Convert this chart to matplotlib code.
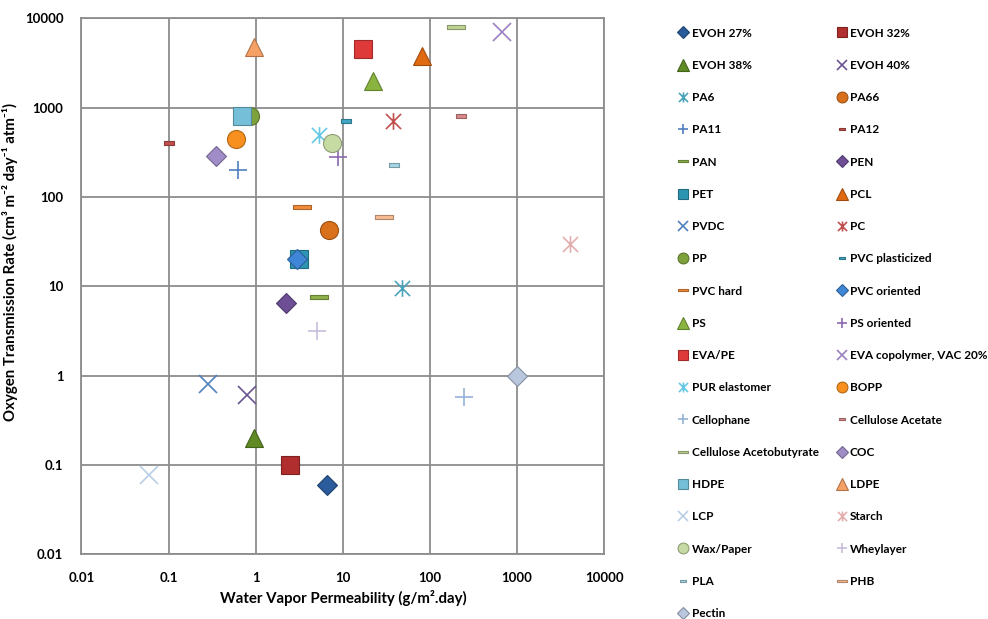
import matplotlib.pyplot as plt
from matplotlib.colors import to_rgb
from matplotlib.path import Path
from matplotlib.ticker import FixedLocator, FixedFormatter, NullLocator

plt.rcParams['font.family'] = ['Lato', 'DejaVu Sans']

# データ
materials = [
    "EVOH 27%", "EVOH 32%", "EVOH 38%", "EVOH 40%", "PA6", "PA66", "PA11", "PA12",
    "PAN", "PEN", "PET", "PCL", "PVDC", "PC", "PP", "PVC plasticized", "PVC hard",
    "PVC oriented", "PS", "PS oriented", "EVA/PE", "EVA copolymer, VAC 20%",
    "PUR elastomer", "BOPP", "Cellophane", "Cellulose Acetate",
    "Cellulose Acetobutyrate", "COC", "HDPE", "LDPE", "LCP", "Starch", "Wax/Paper",
    "Wheylayer", "PLA", "PHB", "Pectin",
]
wvp = [
    6.5, 2.5, 0.95, 0.8, 48, 7.0, 0.63, 0.1,
    5.3, 2.2, 3.1, 82, 0.28, 38, 0.85, 11, 3.4,
    3.0, 22, 8.7, 17, 670,
    5.3, 0.6, 245, 230,
    200, 0.35, 0.7, 0.95, 0.06, 4000, 7.5,
    5.0, 39, 30, 1000,
]
otr = [
    0.06, 0.1, 0.2, 0.6, 9.5, 43, 200, 400,
    7.6, 6.5, 20, 3800, 0.8, 700, 800, 700, 78,
    20, 2000, 280, 4500, 7000,
    500, 450, 0.58, 800,
    8000, 290, 800, 4800, 0.078, 30, 400,
    3.2, 230, 60, 1.0,
]

decade_ticks = [0.01, 0.1, 1, 10, 100, 1000, 10000]
decade_labels = ["0.01", "0.1", "1", "10", "100", "1000", "10000"]

# マーカー形状
dash_big = Path([(-1, -0.25), (1, -0.25), (1, 0.25), (-1, 0.25), (-1, -0.25)],
                [Path.MOVETO, Path.LINETO, Path.LINETO, Path.LINETO, Path.CLOSEPOLY])
dash_small = Path([(-1, -0.4), (1, -0.4), (1, 0.4), (-1, 0.4), (-1, -0.4)],
                  [Path.MOVETO, Path.LINETO, Path.LINETO, Path.LINETO, Path.CLOSEPOLY])
asterisk = Path([(-1, -1), (1, 1), (-1, 1), (1, -1), (0, -1.1), (0, 1.1)],
                [Path.MOVETO, Path.LINETO, Path.MOVETO, Path.LINETO, Path.MOVETO, Path.LINETO])

styles = [
    ('D', '#2a5c9c', 10.5), ('s', '#b02e2e', 13), ('^', '#5f8a24', 13.5), ('x', '#6a5490', 13),
    (asterisk, '#4ba3bc', 12), ('o', '#d8701c', 13), ('+', '#4f7fc0', 12.5), (dash_small, '#c0504d', 7.5),
    (dash_big, '#8fb04a', 13), ('D', '#6e4f96', 10.5), ('s', '#2c95b2', 13), ('^', '#e06a12', 13.5),
    ('x', '#4f81bd', 13), (asterisk, '#c0504d', 12), ('o', '#7da23c', 13), (dash_small, '#3fa6c4', 7.5),
    (dash_big, '#f08c3a', 13), ('D', '#3f86d6', 10.5), ('^', '#8ab440', 13.5), ('+', '#8a6aae', 12.5),
    ('s', '#de3a3a', 13), ('x', '#9a80c2', 13), (asterisk, '#66c8e4', 12), ('o', '#f7901e', 13),
    ('+', '#95b3d7', 12.5), (dash_small, '#d98a8a', 7.5), (dash_big, '#bed393', 13), ('D', '#a08cc6', 10.5),
    ('s', '#75c0d8', 13), ('^', '#f5a065', 13.5), ('x', '#b9cde5', 13), (asterisk, '#e4aeae', 12),
    ('o', '#c6daa4', 13), ('+', '#c8bcda', 12.5), (dash_small, '#a6d6e4', 7.5), (dash_big, '#f7bc92', 13),
    ('D', '#b8c6de', 10.5),
]


def darker(c, f=0.72):
    r, g, b = to_rgb(c)
    return (r * f, g * f, b * f)


fig = plt.figure(figsize=(9.88, 6.19), dpi=100)
ax = fig.add_axes([0.0824, 0.1045, 0.5292, 0.8659])

handles = []
for name, x, y, (mk, col, ms) in zip(materials, wvp, otr, styles):
    if mk in ('x', '+') or mk is asterisk:
        h, = ax.plot([x], [y], linestyle='none', marker=mk, markersize=ms,
                     markeredgecolor=col, markeredgewidth=1.2, label=name)
    else:
        h, = ax.plot([x], [y], linestyle='none', marker=mk, markersize=ms,
                     markerfacecolor=col, markeredgecolor=darker(col), markeredgewidth=0.8,
                     label=name)
    handles.append(h)

ax.set_xscale('log')
ax.set_yscale('log')
ax.set_xlim(0.01, 10000)
ax.set_ylim(0.01, 10000)
ax.xaxis.set_major_locator(FixedLocator(decade_ticks))
ax.xaxis.set_major_formatter(FixedFormatter(decade_labels))
ax.yaxis.set_major_locator(FixedLocator(decade_ticks))
ax.yaxis.set_major_formatter(FixedFormatter(decade_labels))
ax.xaxis.set_minor_locator(NullLocator())
ax.yaxis.set_minor_locator(NullLocator())
ax.tick_params(length=0, labelsize=9.5, pad=13)
for lab in ax.get_xticklabels() + ax.get_yticklabels():
    lab.set_fontweight('bold')
ax.grid(True, color='#8c8c8c', linewidth=1.3)
ax.set_axisbelow(True)
for sp in ax.spines.values():
    sp.set_color('#8c8c8c')
    sp.set_linewidth(1.3)

ax.set_xlabel('Water Vapor Permeability (g/m².day)', fontsize=10.8, fontweight='bold', labelpad=4)
ax.set_ylabel('Oxygen Transmission Rate (cm³ m⁻² day⁻¹ atm⁻¹)', fontsize=10.8,
              fontweight='bold')
ax.yaxis.set_label_coords(-0.121, 0.545)

# 凡例（行方向に並べる）
order = list(range(0, len(handles), 2)) + list(range(1, len(handles), 2))
leg = fig.legend([handles[i] for i in order], [materials[i] for i in order],
                 loc='upper left', bbox_to_anchor=(0.682, 0.963), ncol=2, frameon=False,
                 fontsize=8.5, markerscale=0.6, handlelength=0.8, handletextpad=0.3,
                 labelspacing=1.8, columnspacing=1.55, borderaxespad=0)
for t in leg.get_texts():
    t.set_fontweight('bold')

fig.savefig('out.png', dpi=100)
